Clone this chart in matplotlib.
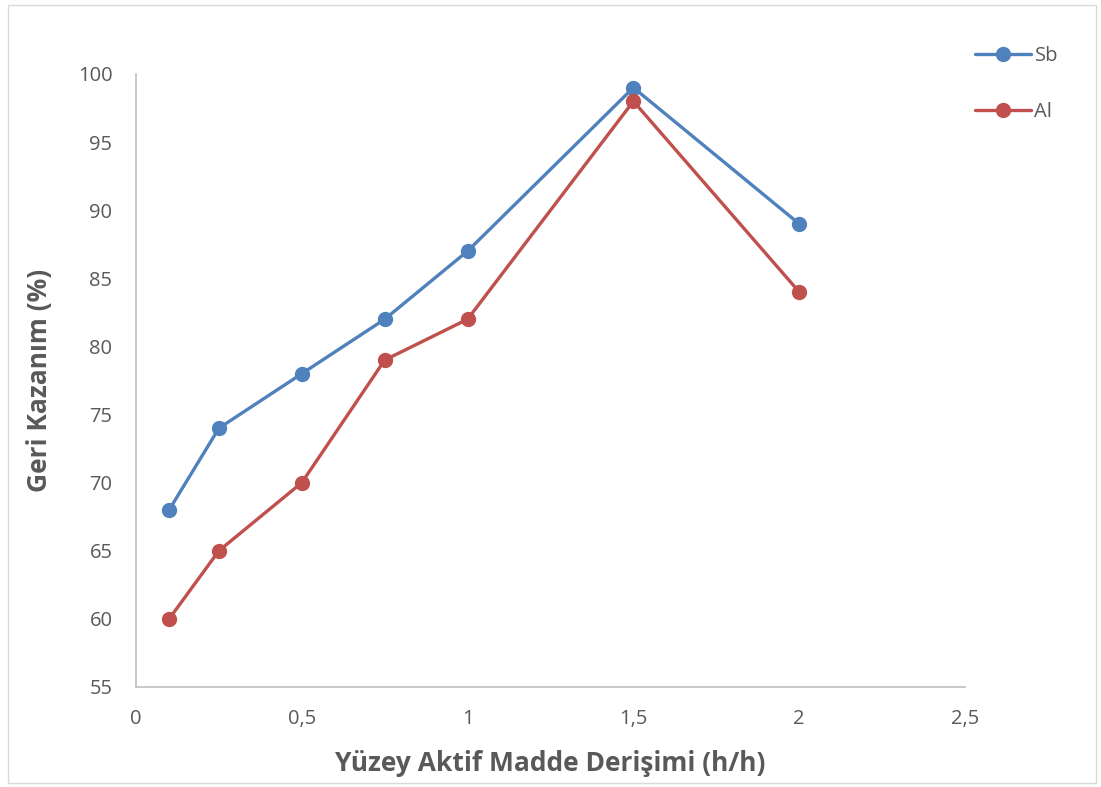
import matplotlib
matplotlib.use("Agg")
import matplotlib.pyplot as plt
from matplotlib.patches import Rectangle
from matplotlib.ticker import FixedLocator, FuncFormatter

plt.rcParams['font.family'] = ['Open Sans', 'DejaVu Sans']

x = [0.1, 0.25, 0.5, 0.75, 1.0, 1.5, 2.0]
sb = [68, 74, 78, 82, 87, 99, 89]
al = [60, 65, 70, 79, 82, 98, 84]
xticks = [0, 0.5, 1, 1.5, 2, 2.5]
yticks = [55, 60, 65, 70, 75, 80, 85, 90, 95, 100]

W, H = 1101, 787
fig = plt.figure(figsize=(W/100, H/100), dpi=100)
fig.patches.append(Rectangle((8/W, 1-783/H), (1096-8)/W, (783-5)/H, transform=fig.transFigure,
                             fill=False, edgecolor='#d9d9d9', linewidth=1))
ax = fig.add_axes([136/W, 1-687/H, (965-136)/W, (687-74)/H])

blue = '#4F81BD'
red = '#C0504D'
l1, = ax.plot(x, sb, color=blue, lw=2.4, marker='o', ms=10, label='Sb', solid_capstyle='round')
l2, = ax.plot(x, al, color=red, lw=2.4, marker='o', ms=10, label='Al', solid_capstyle='round')

ax.set_xlim(0, 2.5)
ax.set_ylim(55, 100)
ax.xaxis.set_major_locator(FixedLocator(xticks))
ax.yaxis.set_major_locator(FixedLocator(yticks))
fmt = lambda v, p: ('%g' % v).replace('.', ',')
ax.xaxis.set_major_formatter(FuncFormatter(fmt))
ax.yaxis.set_major_formatter(FuncFormatter(fmt))
for s in ['top', 'right']:
    ax.spines[s].set_visible(False)
for s in ['left', 'bottom']:
    ax.spines[s].set_color('#bfbfbf')
    ax.spines[s].set_linewidth(1.2)
ax.tick_params(length=0, labelsize=14.5, labelcolor='#595959')
ax.tick_params(axis='y', pad=17)
ax.tick_params(axis='x', pad=16)
ax.set_xlabel('Yüzey Aktif Madde Derişimi (h/h)', fontsize=19, fontweight='bold', color='#595959', labelpad=15)
ax.set_ylabel('Geri Kazanım (%)', fontsize=19, fontweight='bold', color='#595959', labelpad=18)

leg = fig.legend(handles=[l1, l2], loc='upper left', bbox_to_anchor=(967/W, 1-38/H),
                 frameon=False, fontsize=14.5, labelspacing=1.8, handlelength=2.8, handletextpad=0.15,
                 borderaxespad=0)
for t in leg.get_texts():
    t.set_color('#595959')

fig.savefig('out.png', dpi=100)
